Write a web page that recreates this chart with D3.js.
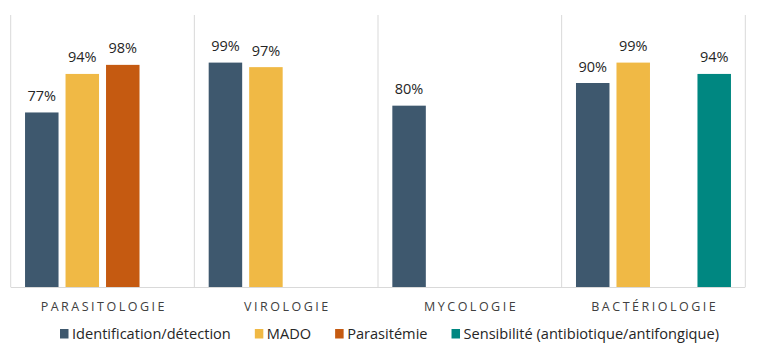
<!DOCTYPE html>
<html><head><meta charset="utf-8">
<script src="https://cdn.jsdelivr.net/npm/d3@7/dist/d3.min.js"></script>
<style>
html,body{margin:0;padding:0;background:#fff;}
svg{display:block;}
text{font-family:"Open Sans","Noto Sans",sans-serif;}
</style></head>
<body>
<svg id="chart" width="767" height="355"></svg>
<script>
const categories = ["PARASITOLOGIE", "VIROLOGIE", "MYCOLOGIE", "BACTÉRIOLOGIE"];
const seriesNames = ["Identification/détection", "MADO", "Parasitémie", "Sensibilité (antibiotique/antifongique)"];
const seriesColors = ["#3E586E", "#F0B945", "#C55A11", "#008781"];
// values per series, per category (null = no bar)
const identification = [77, 99, 80, 90];
const mado = [94, 97, null, 99];
const parasitemie = [98, null, null, null];
const sensibilite = [null, null, null, 94];
const series = [identification, mado, parasitemie, sensibilite];

const svg = d3.select("#chart");
const plot = {left: 10.7, right: 745.3, top: 15, bottom: 287};

const x0 = d3.scaleBand().domain(categories).range([plot.left, plot.right]).padding(0);
const x1 = d3.scaleBand().domain(d3.range(seriesNames.length)).range([0, x0.bandwidth()])
  .paddingInner(0.173).paddingOuter(0.354);
const y = d3.scaleLinear().domain([0, 120]).range([plot.bottom, plot.top]);

// vertical separators
const bounds = categories.map(c => x0(c)).concat([x0(categories[categories.length-1]) + x0.bandwidth()]);
svg.append("g").selectAll("line").data(bounds).join("line")
  .attr("x1", d => d).attr("x2", d => d)
  .attr("y1", plot.top).attr("y2", plot.bottom)
  .attr("stroke", "#D9D9D9").attr("stroke-width", 1);

// bars
const barData = [];
series.forEach((vals, si) => vals.forEach((v, ci) => {
  if (v != null) barData.push({si, cat: categories[ci], v});
}));
const g = svg.append("g");
g.selectAll("rect").data(barData).join("rect")
  .attr("x", d => x0(d.cat) + x1(d.si))
  .attr("width", x1.bandwidth())
  .attr("y", d => y(d.v))
  .attr("height", d => y(0) - y(d.v))
  .attr("fill", d => seriesColors[d.si]);

g.selectAll("text").data(barData).join("text")
  .attr("x", d => x0(d.cat) + x1(d.si) + x1.bandwidth()/2)
  .attr("y", d => y(d.v) - 11.5)
  .attr("text-anchor", "middle")
  .attr("font-size", 14.5)
  .attr("fill", "#262626")
  .text(d => d.v + "%");

// baseline
svg.append("line").attr("x1", plot.left).attr("x2", plot.right)
  .attr("y1", y(0)+0.5).attr("y2", y(0)+0.5)
  .attr("stroke", "#D9D9D9").attr("stroke-width", 1);

// category axis
const xAxis = d3.axisBottom(x0).tickSize(0).tickPadding(0);
const ax = svg.append("g").attr("transform", `translate(0,${plot.bottom})`).call(xAxis);
ax.select(".domain").remove();
const ls = 2.5;
ax.selectAll(".tick text")
  .attr("y", 24).attr("dy", 0)
  .attr("dx", ls/2)
  .attr("font-size", 12.5)
  .attr("letter-spacing", ls)
  .attr("fill", "#404040")
  .style("font-family", '"Open Sans","Noto Sans",sans-serif');

// legend
const leg = svg.append("g");
let lx = 60;
const legY = 338.5;
seriesNames.forEach((name, i) => {
  leg.append("rect").attr("x", lx).attr("y", legY - 9.5).attr("width", 8.5).attr("height", 9.5)
    .attr("fill", seriesColors[i]);
  const t = leg.append("text").attr("x", lx + 12).attr("y", legY)
    .attr("font-size", 14.6).attr("fill", "#262626").text(name);
  const w = t.node().getComputedTextLength();
  lx = lx + 12 + w + 24;
});
</script>
</body></html>
